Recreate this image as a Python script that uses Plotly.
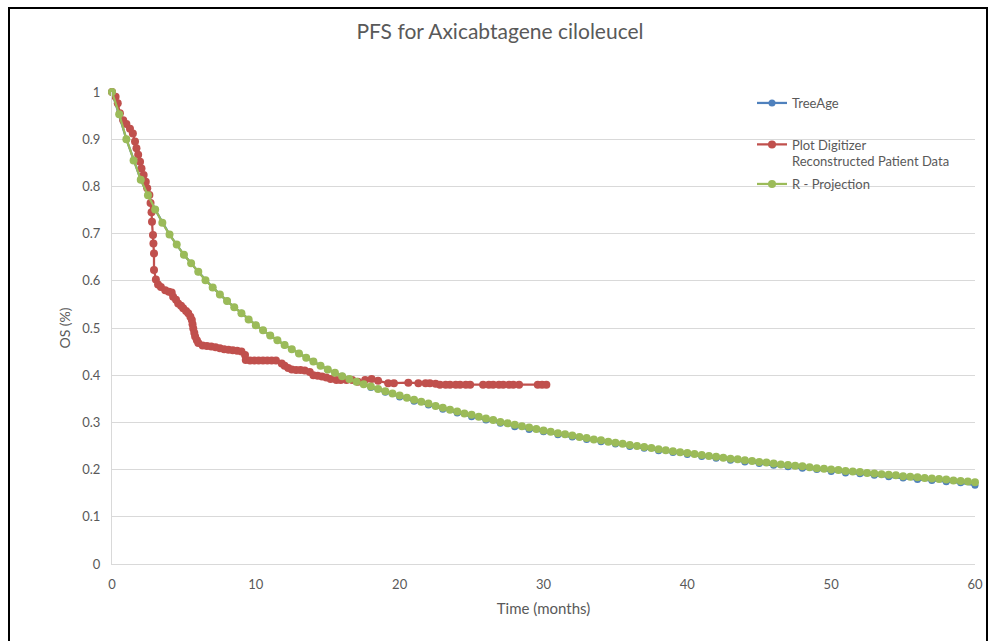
import plotly.graph_objects as go

# ---------------- data ----------------
green_t = [i * 0.5 for i in range(121)]
green_y = [1.000, 0.953, 0.900, 0.855, 0.814, 0.781, 0.751, 0.723, 0.698, 0.677,
           0.655, 0.637, 0.619, 0.601, 0.586, 0.571, 0.557, 0.544, 0.531, 0.518,
           0.506, 0.495, 0.484, 0.474, 0.464, 0.455, 0.446, 0.437, 0.429, 0.420,
           0.412, 0.405, 0.398, 0.392, 0.386, 0.381, 0.376, 0.371, 0.366, 0.361,
           0.357, 0.352, 0.348, 0.344, 0.340, 0.335, 0.331, 0.327, 0.323, 0.319,
           0.316, 0.312, 0.308, 0.305, 0.301, 0.298, 0.295, 0.292, 0.289, 0.286,
           0.283, 0.280, 0.277, 0.275, 0.272, 0.269, 0.267, 0.264, 0.262, 0.259,
           0.257, 0.255, 0.252, 0.250, 0.248, 0.246, 0.243, 0.241, 0.239, 0.237,
           0.235, 0.233, 0.231, 0.229, 0.227, 0.225, 0.223, 0.222, 0.220, 0.218,
           0.216, 0.215, 0.213, 0.211, 0.210, 0.208, 0.207, 0.205, 0.203, 0.202,
           0.200, 0.199, 0.197, 0.196, 0.195, 0.193, 0.192, 0.190, 0.189, 0.188,
           0.186, 0.185, 0.184, 0.182, 0.181, 0.180, 0.179, 0.177, 0.176, 0.175,
           0.173]

blue_t = list(range(61))
blue_y = [1.000, 0.900, 0.814, 0.751, 0.698, 0.655, 0.619, 0.586, 0.557, 0.531,
          0.506, 0.484, 0.464, 0.446, 0.429, 0.412, 0.398, 0.386, 0.374, 0.364,
          0.354, 0.345, 0.337, 0.328, 0.320, 0.312, 0.305, 0.298, 0.291, 0.285,
          0.280, 0.274, 0.269, 0.264, 0.259, 0.254, 0.249, 0.245, 0.240, 0.236,
          0.232, 0.228, 0.224, 0.220, 0.216, 0.213, 0.209, 0.206, 0.203, 0.200,
          0.196, 0.193, 0.191, 0.188, 0.185, 0.182, 0.179, 0.177, 0.174, 0.172,
          0.167]

red_t = [0.0, 0.25, 0.4, 0.55, 0.78, 1.0, 1.25, 1.45, 1.6, 1.7, 1.82, 1.95, 2.05,
         2.2, 2.35, 2.45, 2.6, 2.68, 2.75, 2.78, 2.85, 2.88, 2.92, 2.92, 3.05,
         3.2, 3.4, 3.7, 3.95, 4.15, 4.25, 4.45, 4.6, 4.8, 4.95, 5.15, 5.3, 5.45,
         5.55, 5.6, 5.65, 5.72, 5.78, 5.9, 6.0, 6.3, 6.6, 6.9, 7.2, 7.5, 7.8,
         8.1, 8.4, 8.7, 9.0, 9.25, 9.3, 9.6, 9.9, 10.2, 10.5, 10.8, 11.1, 11.4,
         11.8, 12.0, 12.25, 12.5, 12.8, 13.1, 13.4, 13.75, 14.0, 14.3, 14.6,
         14.9, 15.2, 15.6, 15.9, 16.3, 16.7, 17.1, 17.6, 18.05, 18.5,
         19.2, 19.6, 20.6, 21.3, 21.8, 22.1, 22.5, 22.8, 23.2, 23.5, 23.9, 24.2,
         24.6, 24.9, 25.8, 26.2, 26.5, 26.9, 27.2, 27.6, 27.9, 28.3, 29.6, 29.9,
         30.2]
red_y = [1.000, 0.990, 0.976, 0.955, 0.940, 0.932, 0.922, 0.912, 0.895, 0.881,
         0.867, 0.852, 0.838, 0.824, 0.810, 0.796, 0.782, 0.765, 0.745, 0.725,
         0.697, 0.679, 0.658, 0.623, 0.603,
         0.592, 0.587, 0.580, 0.577, 0.575, 0.566, 0.560, 0.552, 0.547, 0.542,
         0.536, 0.531, 0.524, 0.517, 0.508, 0.499, 0.490, 0.482, 0.474, 0.468,
         0.463, 0.462, 0.461, 0.459, 0.457, 0.455, 0.454, 0.453, 0.452, 0.450,
         0.443, 0.432, 0.431, 0.431, 0.431, 0.431, 0.431, 0.431, 0.431,
         0.425, 0.420, 0.415, 0.412, 0.411, 0.411, 0.410, 0.407, 0.400, 0.399,
         0.397, 0.395, 0.392, 0.390, 0.390, 0.390, 0.390, 0.386, 0.390, 0.392,
         0.388,
         0.383, 0.383, 0.384, 0.383, 0.383, 0.383, 0.382, 0.380, 0.380, 0.380,
         0.380, 0.380, 0.380, 0.380, 0.380, 0.380, 0.380, 0.380, 0.380, 0.380,
         0.380, 0.380, 0.380, 0.380, 0.380]

y_ticks = [0, 0.1, 0.2, 0.3, 0.4, 0.5, 0.6, 0.7, 0.8, 0.9, 1]
y_labels = ["0", "0.1", "0.2", "0.3", "0.4", "0.5", "0.6", "0.7", "0.8", "0.9", "1"]
x_ticks = [0, 10, 20, 30, 40, 50, 60]
x_labels = ["0", "10", "20", "30", "40", "50", "60"]

title = "PFS for Axicabtagene ciloleucel"
names = ["TreeAge", "Plot Digitizer<br>Reconstructed Patient Data", "R - Projection"]

# ---------------- figure ----------------
FONT = "Lato, 'Open Sans', sans-serif"
GREY = "#595959"
BLUE = "#4F81BD"
RED = "#C0504D"
GREEN = "#9BBB59"

W, H = 989, 641
PL, PR, PT, PB = 112, 975, 92, 564          # plot area, page pixels
L, T, R, B = PL, PT, W - PR, H - PB
pw, ph = PR - PL, PB - PT

def px(xp):
    return (xp - PL) / pw

def py(yp):
    return (PB - yp) / ph

fig = go.Figure()
fig.add_trace(go.Scatter(x=blue_t, y=blue_y, name=names[0], mode="lines+markers",
                         line=dict(color=BLUE, width=2.25),
                         marker=dict(color=BLUE, size=7), cliponaxis=False,
                         legend="legend"))
fig.add_trace(go.Scatter(x=red_t, y=red_y, name=names[1], mode="lines+markers",
                         line=dict(color=RED, width=2.25),
                         marker=dict(color=RED, size=8), cliponaxis=False,
                         legend="legend2"))
fig.add_trace(go.Scatter(x=green_t, y=green_y, name=names[2], mode="lines+markers",
                         line=dict(color=GREEN, width=2.25),
                         marker=dict(color=GREEN, size=8), cliponaxis=False,
                         legend="legend3"))

leg_common = dict(bgcolor="rgba(0,0,0,0)", font=dict(family=FONT, size=13, color=GREY),
                  xanchor="left", yanchor="middle", valign="top", itemwidth=30)

fig.update_layout(
    width=W, height=H,
    margin=dict(l=L, r=R, t=T, b=B, autoexpand=False),
    paper_bgcolor="white", plot_bgcolor="white",
    showlegend=True,
    title=dict(text=title, xref="container", x=500 / W, xanchor="center",
               y=1 - 32 / H, yanchor="middle",
               font=dict(family=FONT, size=21, color=GREY)),
    font=dict(family=FONT, size=13, color=GREY),
    legend=dict(x=px(752), y=py(103), **leg_common),
    legend2=dict(x=px(752), y=py(153), **leg_common),
    legend3=dict(x=px(752), y=py(184), **leg_common),
    xaxis=dict(range=[0, 60], tickvals=x_ticks, ticktext=x_labels, showgrid=False,
               zeroline=False, showline=True, linecolor="#D9D9D9", linewidth=1,
               ticks="", ticklabelstandoff=8,
               tickfont=dict(family=FONT, size=13, color=GREY),
               title=dict(text="Time (months)", standoff=12,
                          font=dict(family=FONT, size=15, color=GREY))),
    yaxis=dict(range=[0, 1], tickvals=y_ticks, ticktext=y_labels, showgrid=True,
               gridcolor="#D9D9D9", gridwidth=1, zeroline=False, showline=True,
               linecolor="#D9D9D9", linewidth=1, ticks="", ticklabelstandoff=8,
               tickfont=dict(family=FONT, size=13, color=GREY),
               title=dict(text="OS (%)", standoff=8,
                          font=dict(family=FONT, size=14, color=GREY))),
    shapes=[dict(type="rect", xref="paper", yref="paper",
                 x0=px(9), x1=px(987), y0=py(660), y1=py(8),
                 line=dict(color="black", width=2), fillcolor="rgba(0,0,0,0)")],
)

fig.write_html("out.html",
               config={"displayModeBar": False},
               post_script="document.body.style.margin='0';"
                           "document.body.style.overflow='hidden';")
